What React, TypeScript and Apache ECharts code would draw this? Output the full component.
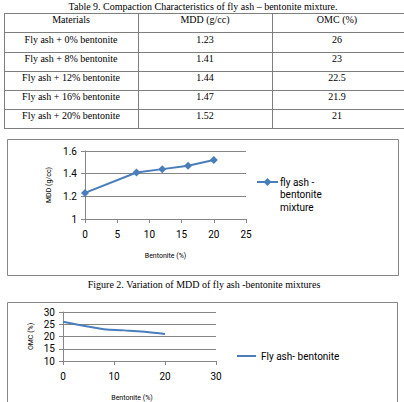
import React, { useEffect, useRef } from "react";
import * as echarts from "echarts";

const tableTitle = "Table 9. Compaction Characteristics of fly ash \u2013 bentonite mixture.";
const tableHeaders = ["Materials", "MDD (g/cc)", "OMC (%)"];
const materials = [
  "Fly ash + 0% bentonite",
  "Fly ash + 8% bentonite",
  "Fly ash + 12% bentonite",
  "Fly ash + 16% bentonite",
  "Fly ash + 20% bentonite",
];
const mddText = ["1.23", "1.41", "1.44", "1.47", "1.52"];
const omcText = ["26", "23", "22.5", "21.9", "21"];

const bentonite = [0, 8, 12, 16, 20];
const mdd = [1.23, 1.41, 1.44, 1.47, 1.52];
const omc = [26, 23, 22.5, 21.9, 21];

const caption = "Figure 2. Variation of MDD of fly ash -bentonite mixtures";
const legend1 = "fly ash -\nbentonite\nmixture";
const legend2 = "Fly ash- bentonite";

const SERIF = "'Liberation Serif', 'DejaVu Serif', serif";
const SANS = "Roboto, 'Liberation Sans', sans-serif";
const BLUE = "#4a7ebb";
const GRAY = "#868686";

export default function App() {
  const ref = useRef<HTMLDivElement>(null);
  useEffect(() => {
    if (!ref.current) return;
    const chart = echarts.init(ref.current, null, { renderer: "svg" });

    const rowLines = [13, 32, 52, 71, 90, 109, 128];
    const colX = [4, 138, 272, 404];
    const colCenter = [71, 205, 337];
    const graphics: any[] = [];
    graphics.push({
      type: "text",
      x: 203,
      y: 6,
      style: { text: tableTitle, font: `10px ${SERIF}`, fill: "#000", align: "center", verticalAlign: "middle" },
    });
    rowLines.forEach((y) => {
      graphics.push({ type: "line", shape: { x1: colX[0], y1: y + 0.5, x2: 404, y2: y + 0.5 }, style: { stroke: "#7f7f7f", lineWidth: 1 } });
    });
    colX.slice(0, 3).forEach((x) => {
      graphics.push({ type: "line", shape: { x1: x + 0.5, y1: rowLines[0], x2: x + 0.5, y2: rowLines[6] }, style: { stroke: "#7f7f7f", lineWidth: 1 } });
    });
    const rows = [tableHeaders, ...materials.map((m, i) => [m, mddText[i], omcText[i]])];
    rows.forEach((r, ri) => {
      const yc = (rowLines[ri] + rowLines[ri + 1]) / 2 - 3;
      r.forEach((t, ci) => {
        graphics.push({
          type: "text",
          x: colCenter[ci],
          y: yc,
          style: { text: t, font: `10px ${SERIF}`, fill: "#000", align: "center", verticalAlign: "middle" },
        });
      });
    });
    // chart boxes
    graphics.push({ type: "rect", shape: { x: 7.5, y: 139.5, width: 391, height: 136 }, style: { fill: "none", stroke: GRAY, lineWidth: 1 } });
    graphics.push({ type: "rect", shape: { x: 7.5, y: 302.5, width: 390, height: 110 }, style: { fill: "none", stroke: GRAY, lineWidth: 1 } });
    graphics.push({
      type: "text",
      x: 204,
      y: 284,
      style: { text: caption, font: `10px ${SERIF}`, fill: "#000", align: "center", verticalAlign: "middle" },
    });
    // legend of chart 1 (line + diamond marker, three-line label)
    graphics.push({ type: "line", shape: { x1: 257, y1: 182, x2: 278, y2: 182 }, style: { stroke: BLUE, lineWidth: 2 } });
    graphics.push({
      type: "polygon",
      shape: { points: [[267.5, 178], [271.5, 182], [267.5, 186], [263.5, 182]] },
      style: { fill: BLUE },
    });
    graphics.push({
      type: "text",
      x: 280,
      y: 176,
      style: { text: legend1, font: `10px ${SANS}`, fill: "#000", lineHeight: 12.5, verticalAlign: "top", align: "left" },
    });

    const axisCommon = {
      axisLine: { show: true, lineStyle: { color: GRAY, width: 1 } },
      axisTick: { show: true, length: 4, lineStyle: { color: GRAY } },
      axisLabel: { color: "#000", fontFamily: SANS, fontSize: 10 },
    };

    chart.setOption({
      animation: false,
      backgroundColor: "#fff",
      grid: [
        { left: 85, right: 404 - 246, top: 151, bottom: 402 - 219 },
        { left: 63, right: 404 - 216, top: 312, bottom: 402 - 361 },
      ],
      legend: [
        {
          data: [{ name: legend2, icon: "rect" }],
          left: 237,
          top: 351,
          padding: 0,
          itemWidth: 19,
          itemHeight: 2,
          textStyle: { fontFamily: SANS, fontSize: 10, color: "#000" },
        },
      ],
      xAxis: [
        {
          ...axisCommon,
          gridIndex: 0,
          type: "value",
          min: 0,
          max: 25,
          interval: 5,
          splitLine: { show: false },
          axisLabel: { ...axisCommon.axisLabel, margin: 10 },
          name: "Bentonite (%)",
          nameLocation: "middle",
          nameGap: 33,
          nameTextStyle: { fontFamily: SANS, fontSize: 7, color: "#000" },
        },
        {
          ...axisCommon,
          gridIndex: 1,
          type: "value",
          min: 0,
          max: 30,
          interval: 10,
          splitLine: { show: false },
          axisLabel: { ...axisCommon.axisLabel, margin: 10 },
          name: "Bentonite (%)",
          nameLocation: "middle",
          nameGap: 33,
          nameTextStyle: { fontFamily: SANS, fontSize: 7, color: "#000", padding: [0, 15, 0, 0] },
        },
      ],
      yAxis: [
        {
          ...axisCommon,
          gridIndex: 0,
          type: "value",
          min: 1,
          max: 1.6,
          interval: 0.2,
          splitLine: { show: true, lineStyle: { color: GRAY, width: 1 } },
          axisLabel: { ...axisCommon.axisLabel, margin: 8, formatter: (v: number) => String(Math.round(v * 10) / 10) },
          name: "MDD (g/cc)",
          nameLocation: "middle",
          nameGap: 33,
          nameTextStyle: { fontFamily: SANS, fontSize: 7, color: "#000" },
        },
        {
          ...axisCommon,
          gridIndex: 1,
          type: "value",
          min: 10,
          max: 30,
          interval: 5,
          splitLine: { show: true, lineStyle: { color: GRAY, width: 1 } },
          axisLabel: { ...axisCommon.axisLabel, margin: 8 },
          name: "OMC (%)",
          nameLocation: "middle",
          nameGap: 29,
          nameTextStyle: { fontFamily: SANS, fontSize: 7, color: "#000" },
        },
      ],
      series: [
        {
          type: "line",
          name: legend1,
          xAxisIndex: 0,
          yAxisIndex: 0,
          data: bentonite.map((b, i) => [b, mdd[i]]),
          symbol: "diamond",
          symbolSize: 8,
          lineStyle: { color: BLUE, width: 2 },
          itemStyle: { color: BLUE },
        },
        {
          type: "line",
          name: legend2,
          xAxisIndex: 1,
          yAxisIndex: 1,
          data: bentonite.map((b, i) => [b, omc[i]]),
          smooth: 0.4,
          showSymbol: false,
          symbol: "none",
          lineStyle: { color: BLUE, width: 2 },
          itemStyle: { color: BLUE },
        },
      ],
      graphic: graphics,
    });
    return () => chart.dispose();
  }, []);
  return (
    <div
      ref={ref}
      style={{ position: "absolute", left: 0, top: 0, width: 404, height: 402, background: "#fff" }}
    />
  );
}
